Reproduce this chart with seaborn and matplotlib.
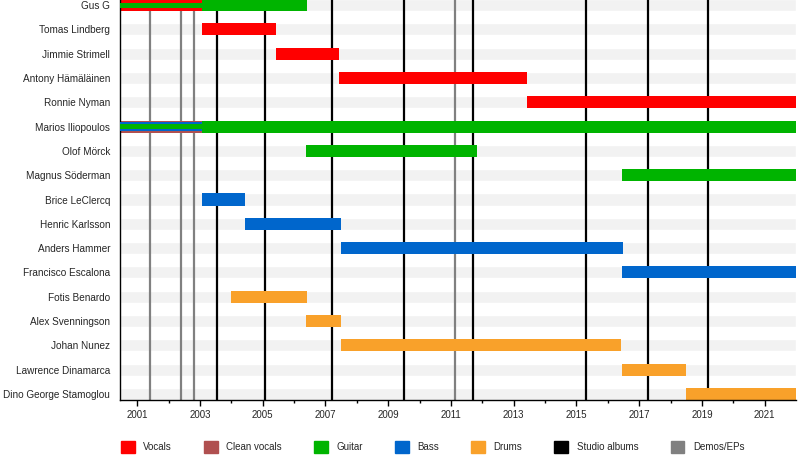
import matplotlib
matplotlib.use('Agg')
import matplotlib.pyplot as plt
from matplotlib.patches import Patch
import seaborn as sns

# timeline range (decimal years)
START = 2000.45
END = 2022.0

members = [
    'Gus G', 'Tomas Lindberg', 'Jimmie Strimell', 'Antony Hämäläinen',
    'Ronnie Nyman', 'Marios Iliopoulos', 'Olof Mörck', 'Magnus Söderman',
    'Brice LeClercq', 'Henric Karlsson', 'Anders Hammer', 'Francisco Escalona',
    'Fotis Benardo', 'Alex Svenningson', 'Johan Nunez', 'Lawrence Dinamarca',
    'Dino George Stamoglou',
]

# member, role, start, end, layer (0 = main bar, higher = thinner overlay)
periods = [
    ('Gus G', 'Guitar', START, 2006.41, 0),
    ('Gus G', 'Vocals', START, 2003.06, 0),
    ('Gus G', 'Guitar', START, 2003.06, 2),
    ('Tomas Lindberg', 'Vocals', 2003.06, 2005.42, 0),
    ('Jimmie Strimell', 'Vocals', 2005.42, 2007.44, 0),
    ('Antony Hämäläinen', 'Vocals', 2007.44, 2013.43, 0),
    ('Ronnie Nyman', 'Vocals', 2013.43, END, 0),
    ('Marios Iliopoulos', 'Guitar', START, END, 0),
    ('Marios Iliopoulos', 'Clean vocals', START, 2003.06, 0),
    ('Marios Iliopoulos', 'Bass', START, 2003.06, 1),
    ('Marios Iliopoulos', 'Guitar', START, 2003.06, 2),
    ('Olof Mörck', 'Guitar', 2006.39, 2011.84, 0),
    ('Magnus Söderman', 'Guitar', 2016.46, END, 0),
    ('Brice LeClercq', 'Bass', 2003.06, 2004.43, 0),
    ('Henric Karlsson', 'Bass', 2004.43, 2007.49, 0),
    ('Anders Hammer', 'Bass', 2007.49, 2016.48, 0),
    ('Francisco Escalona', 'Bass', 2016.46, END, 0),
    ('Fotis Benardo', 'Drums', 2003.99, 2006.41, 0),
    ('Alex Svenningson', 'Drums', 2006.39, 2007.49, 0),
    ('Johan Nunez', 'Drums', 2007.49, 2016.42, 0),
    ('Lawrence Dinamarca', 'Drums', 2016.46, 2018.48, 0),
    ('Dino George Stamoglou', 'Drums', 2018.48, END, 0),
]

studio_albums = [2003.54, 2005.08, 2007.21, 2009.51, 2011.71, 2015.29, 2017.27, 2019.21]
demos = [2001.41, 2002.39, 2002.81, 2011.14]

role_colors = {
    'Vocals': '#ff0000',
    'Clean vocals': '#b05050',
    'Guitar': '#00b400',
    'Bass': '#0066cc',
    'Drums': '#f9a12a',
}
layer_height = {0: 0.5, 1: 0.40, 2: 0.20}

sns.set_theme(style='white')
plt.rcParams['font.family'] = ['Liberation Sans', 'DejaVu Sans']

fig = plt.figure(figsize=(8, 4.58), dpi=100)
ax = fig.add_axes([120 / 800, 58 / 458, 676 / 800, 400 / 458])

rows = list(range(len(members)))

# light background band for every row
ax.barh(rows, END - START, left=START, height=0.5, color='#f2f2f2', zorder=0)

for x in demos:
    ax.axvline(x, color='#808080', lw=1.6, zorder=1)
for x in studio_albums:
    ax.axvline(x, color='black', lw=1.6, zorder=1)

for name, role, s, e, layer in periods:
    ax.barh(members.index(name), e - s, left=s, height=layer_height[layer],
            color=role_colors[role], zorder=2 + layer, linewidth=0)

ax.set_xlim(START, END)
ax.set_ylim(16.25, -0.21)
ax.set_yticks(rows)
ax.set_yticklabels(members, fontsize=7.2)
ax.set_xticks(range(2001, 2022, 2))
ax.set_xticks(range(2001, 2022), minor=True)
ax.tick_params(axis='x', which='major', direction='out', length=4, width=1,
               color='black', labelsize=7, pad=3, bottom=True)
ax.tick_params(axis='x', which='minor', direction='out', length=2.5, width=1,
               color='black', bottom=True)
ax.tick_params(axis='y', length=0, pad=7)
ax.grid(False)

for side in ['top', 'right']:
    ax.spines[side].set_visible(False)
for side in ['left', 'bottom']:
    ax.spines[side].set_color('black')
    ax.spines[side].set_linewidth(1)

handles = [Patch(color=c, label=r) for r, c in role_colors.items()]
handles.append(Patch(color='black', label='Studio albums'))
handles.append(Patch(color='#808080', label='Demos/EPs'))
fig.legend(handles=handles, loc='center left', bbox_to_anchor=(117 / 800, 11 / 458),
           ncol=7, frameon=False, fontsize=7, handlelength=1.4, handleheight=1.4,
           handletextpad=0.9, columnspacing=3.3, borderaxespad=0)

fig.savefig('out.png', dpi=100)
